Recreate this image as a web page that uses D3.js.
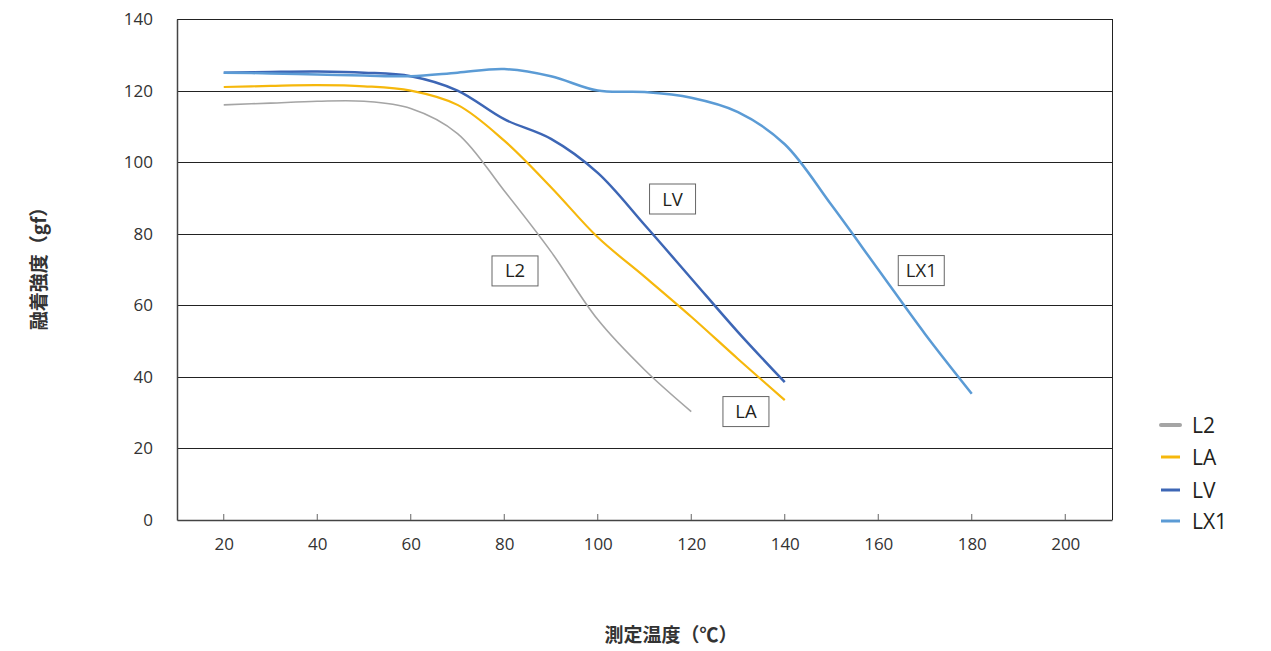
<!DOCTYPE html>
<html><head><meta charset="utf-8">
<script src="https://cdn.jsdelivr.net/npm/d3@7"></script>
<style>body{margin:0;background:#fff;}svg{display:block;}</style>
</head><body>
<svg id="c" width="1271" height="651"></svg>
<script>
const temps = [20,30,40,50,60,70,80,90,100,110,120,130,140,150,160,170,180];
const xTicks = [20,40,60,80,100,120,140,160,180,200];
const yTicks = [0,20,40,60,80,100,120,140];
const seriesNames = ["L2","LA","LV","LX1"];
const L2  = [116,116.5,117,117,115,108,92,75,56,42,30.3];
const LA  = [121,121.3,121.5,121.2,120,116,106,93,79,68,56.8,45,33.5];
const LV  = [125,125.2,125.3,125,124,120,112,106.5,97,82.5,67.5,52.5,38.5];
const LX1 = [125,124.8,124.5,124.2,124,125,126,124,120,119.6,118,114,105,88,70,52,35.3];
const colors = ["#a5a5a5","#f6b80c","#3d66b5","#5b9bd5"];
const widths = [1.6,2.2,2.5,2.5];
const labels = [{t:"L2",x:82.3,y:69.6},{t:"LA",x:131.7,y:30.3},{t:"LV",x:116,y:89.7},{t:"LX1",x:169.2,y:69.7}];

const svg = d3.select("#c");
const L=177,R=1112,T=19,B=520;
const x = d3.scaleLinear().domain([10,210]).range([L,R]);
const y = d3.scaleLinear().domain([0,140]).range([B,T]);
const font = "'Open Sans','Noto Sans CJK JP',sans-serif";

svg.append("g").selectAll("line").data(yTicks.filter(d=>d>0)).join("line")
  .attr("x1",L).attr("x2",R).attr("y1",d=>Math.round(y(d))+0.5).attr("y2",d=>Math.round(y(d))+0.5)
  .attr("stroke","#222").attr("stroke-width",1);
svg.append("line").attr("x1",R+0.5).attr("x2",R+0.5).attr("y1",T).attr("y2",B).attr("stroke","#222");

const xa = svg.append("g").attr("transform",`translate(0,${B})`)
  .call(d3.axisBottom(x).tickValues(xTicks).tickSize(0).tickPadding(18));
xa.select(".domain").attr("stroke","#444").attr("stroke-width",1.5);
xa.selectAll("text").attr("font-family",font).attr("font-size",17).attr("fill","#333");
svg.append("g").selectAll("line").data(xTicks).join("line")
  .attr("x1",d=>x(d)).attr("x2",d=>x(d)).attr("y1",B).attr("y2",B-6).attr("stroke","#666");

const ya = svg.append("g").attr("transform",`translate(${L},0)`)
  .call(d3.axisLeft(y).tickValues(yTicks).tickSize(0).tickPadding(24));
ya.select(".domain").attr("stroke","#444").attr("stroke-width",1.5);
ya.selectAll("text").attr("font-family",font).attr("font-size",17).attr("fill","#333");

const data = [L2,LA,LV,LX1];
const line = d3.line().x((d,i)=>x(temps[i])).y(d=>y(d)).curve(d3.curveCatmullRom.alpha(0.5));
data.forEach((s,k)=>{
  svg.append("path").datum(s).attr("d",line).attr("fill","none")
    .attr("stroke",colors[k]).attr("stroke-width",widths[k]);
});

labels.forEach(l=>{
  const cx=x(l.x), cy=y(l.y);
  svg.append("rect").attr("x",cx-23).attr("y",cy-15).attr("width",46).attr("height",30)
    .attr("fill","#fff").attr("stroke","#666").attr("stroke-width",1);
  svg.append("text").attr("x",cx).attr("y",cy+6.5).attr("text-anchor","middle")
    .attr("font-family",font).attr("font-size",18.5).attr("fill","#231f20").text(l.t);
});

seriesNames.forEach((n,k)=>{
  const yy = [425,457,490,521][k];
  svg.append("line").attr("x1",1161).attr("x2",1180).attr("y1",yy).attr("y2",yy)
    .attr("stroke",colors[k]).attr("stroke-width",k===0?4:3).attr("stroke-linecap",k===0?"round":"butt");
  svg.append("text").attr("x",1192).attr("y",yy+7.5).attr("font-family",font).attr("font-size",21)
    .attr("fill","#231f20").text(n);
});

svg.append("text").attr("transform","translate(46,264) rotate(-90)").attr("text-anchor","middle")
  .attr("font-family","'Noto Sans CJK JP',sans-serif").attr("font-weight","bold").attr("font-size",19)
  .attr("fill","#333").text("融着強度（gf）");
svg.append("text").attr("x",671).attr("y",642).attr("text-anchor","middle")
  .attr("font-family","'Noto Sans CJK JP',sans-serif").attr("font-weight","bold").attr("font-size",19)
  .attr("fill","#333").text("測定温度（℃）");
</script>
</body></html>
